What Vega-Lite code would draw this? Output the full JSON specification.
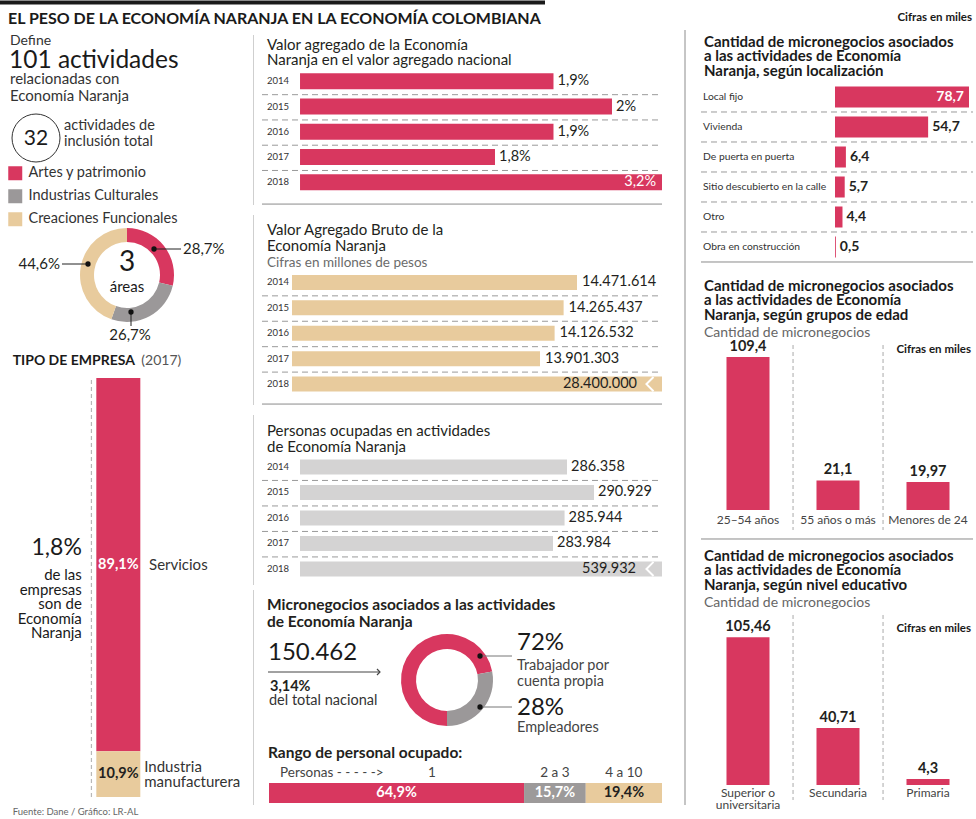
{
"$schema": "https://vega.github.io/schema/vega-lite/v6.json",
"background": "white",
"padding": 0,
"spacing": 0,
"resolve": {"scale": {"color": "independent"}},
"datasets": {
 "donut": [{"area":"Artes y patrimonio","pct":28.7,"label":"28,7%","orden":1},{"area":"Industrias Culturales","pct":26.7,"label":"26,7%","orden":2},{"area":"Creaciones Funcionales","pct":44.6,"label":"44,6%","orden":3}],
 "tipo": [{"tipo":"Servicios","pct":89.1,"label":"89,1%"},{"tipo":"Industria manufacturera","pct":10.9,"label":"10,9%"}],
 "va": [{"year":2014,"value":1.9,"label":"1,9%"},{"year":2015,"value":2.0,"label":"2%"},{"year":2016,"value":1.9,"label":"1,9%"},{"year":2017,"value":1.8,"label":"1,8%"},{"year":2018,"value":3.2,"label":"3,2%"}],
 "vab": [{"year":2014,"value":14471614,"label":"14.471.614"},{"year":2015,"value":14265437,"label":"14.265.437"},{"year":2016,"value":14126532,"label":"14.126.532"},{"year":2017,"value":13901303,"label":"13.901.303"},{"year":2018,"value":28400000,"label":"28.400.000"}],
 "pers": [{"year":2014,"value":286358,"label":"286.358"},{"year":2015,"value":290929,"label":"290.929"},{"year":2016,"value":285944,"label":"285.944"},{"year":2017,"value":283984,"label":"283.984"},{"year":2018,"value":539932,"label":"539.932"}],
 "micro": [{"tipo":"Trabajador por cuenta propia","pct":72,"pctlabel":"72%","lineas":["Trabajador por","cuenta propia"]},{"tipo":"Empleadores","pct":28,"pctlabel":"28%","lineas":["Empleadores"]}],
 "rango": [{"rango":"1","pct":64.9,"label":"64,9%"},{"rango":"2 a 3","pct":15.7,"label":"15,7%"},{"rango":"4 a 10","pct":19.4,"label":"19,4%"}],
 "loc": [{"loc":"Local fijo","value":78.7,"label":"78,7"},{"loc":"Vivienda","value":54.7,"label":"54,7"},{"loc":"De puerta en puerta","value":6.4,"label":"6,4"},{"loc":"Sitio descubierto en la calle","value":5.7,"label":"5,7"},{"loc":"Otro","value":4.4,"label":"4,4"},{"loc":"Obra en construcción","value":0.5,"label":"0,5"}],
 "edad": [{"edad":"25–54 años","value":109.4,"label":"109,4"},{"edad":"55 años o más","value":21.1,"label":"21,1"},{"edad":"Menores de 24","value":19.97,"label":"19,97"}],
 "nivel": [{"nivel":"Superior o universitaria","value":105.46,"label":"105,46","et":["Superior o","universitaria"]},{"nivel":"Secundaria","value":40.71,"label":"40,71","et":["Secundaria"]},{"nivel":"Primaria","value":4.3,"label":"4,3","et":["Primaria"]}]
},
"vconcat": [
 {"width":976,"height":30,"layer":[
  {"data":{"values":[{}]},"mark":{"type":"bar","color":"#1a1a1a"},"encoding":{"x":{"datum":0,"type":"quantitative","scale":{"domain":[0,976],"nice":false,"zero":false}},"x2":{"datum":545},"y":{"datum":0.5,"type":"quantitative","scale":{"domain":[0,30],"reverse":true,"nice":false,"zero":false}},"y2":{"datum":4.5}}},
  {"data":{"values":[{"t":"EL PESO DE LA ECONOMÍA NARANJA EN LA ECONOMÍA COLOMBIANA"}]},"mark":{"type":"text","fontSize":16,"fontWeight":"bold","color":"#1a1a1a"},"encoding":{"x":{"datum":8},"y":{"datum":19},"text":{"field":"t"}}},
  {"data":{"values":[{"t":"Cifras en miles"}]},"mark":{"type":"text","fontSize":11.5,"fontWeight":"bold","align":"right","color":"#1a1a1a"},"encoding":{"x":{"datum":972},"y":{"datum":18},"text":{"field":"t"}}}
 ]},
 {"hconcat": [
  {"vconcat": [
   {"width":252,"height":315,"layer":[
    {"data":{"values":[{"t":"Define"}]},"mark":{"type":"text","fontSize":14,"color":"#333"},"encoding":{"x":{"datum":10,"type":"quantitative","scale":{"domain":[0,252],"nice":false,"zero":false}},"y":{"datum":11,"type":"quantitative","scale":{"domain":[0,315],"reverse":true,"nice":false,"zero":false}},"text":{"field":"t"}}},
    {"data":{"values":[{"t":"101 actividades"}]},"mark":{"type":"text","fontSize":24.5,"color":"#1a1a1a"},"encoding":{"x":{"datum":9},"y":{"datum":31},"text":{"field":"t"}}},
    {"data":{"values":[{"t":["relacionadas con","Economía Naranja"]}]},"mark":{"type":"text","fontSize":15,"color":"#333","baseline":"alphabetic","lineHeight":17},"encoding":{"x":{"datum":10},"y":{"datum":54},"text":{"field":"t"}}},
    {"data":{"values":[{"n":"32"}]},"mark":{"type":"point","shape":"circle","size":2304,"filled":false,"color":"#333","strokeWidth":1,"opacity":1},"encoding":{"x":{"datum":36},"y":{"datum":108}}},
    {"data":{"values":[{"n":"32"}]},"mark":{"type":"text","fontSize":21,"align":"center","color":"#1a1a1a"},"encoding":{"x":{"datum":36},"y":{"datum":109},"text":{"field":"n"}}},
    {"data":{"values":[{"t":["actividades de","inclusión total"]}]},"mark":{"type":"text","fontSize":14.5,"color":"#333","baseline":"alphabetic","lineHeight":16},"encoding":{"x":{"datum":64},"y":{"datum":99.5},"text":{"field":"t"}}},
    {"data":{"name":"donut"},"mark":{"type":"arc","outerRadius":47,"innerRadius":33},"encoding":{"x":{"datum":127},"y":{"datum":245},"theta":{"field":"pct","type":"quantitative","stack":true},"order":{"field":"orden","type":"quantitative"},"color":{"field":"area","type":"nominal","scale":{"domain":["Artes y patrimonio","Industrias Culturales","Creaciones Funcionales"],"range":["#d8375f","#9b9899","#e8cb9d"]},"legend":{"orient":"none","legendX":8,"legendY":136,"title":null,"symbolType":"square","symbolSize":196,"symbolStrokeWidth":0,"symbolOpacity":1,"labelFont":"Lato","labelFontSize":14.5,"labelColor":"#333","labelOffset":6,"rowPadding":7,"padding":0}}}},
    {"data":{"values":[{"n":"3","t":"áreas"}]},"mark":{"type":"text","fontSize":28,"align":"center","color":"#1a1a1a"},"encoding":{"x":{"datum":127},"y":{"datum":233},"text":{"field":"n"}}},
    {"data":{"values":[{"n":"3","t":"áreas"}]},"mark":{"type":"text","fontSize":15,"align":"center","color":"#1a1a1a"},"encoding":{"x":{"datum":127},"y":{"datum":257},"text":{"field":"t"}}},
    {"data":{"name":"donut"},"transform":[{"filter":"datum.orden === 1"}],"layer":[
     {"mark":{"type":"rule","color":"#222","strokeWidth":1},"encoding":{"x":{"datum":154},"x2":{"datum":181},"y":{"datum":219}}},
     {"mark":{"type":"point","filled":true,"size":28,"color":"#111","opacity":1},"encoding":{"x":{"datum":154},"y":{"datum":219}}},
     {"mark":{"type":"text","fontSize":15},"encoding":{"x":{"datum":183},"y":{"datum":219},"text":{"field":"label"}}}
    ]},
    {"data":{"name":"donut"},"transform":[{"filter":"datum.orden === 3"}],"layer":[
     {"mark":{"type":"rule","color":"#222","strokeWidth":1},"encoding":{"x":{"datum":62},"x2":{"datum":88},"y":{"datum":234}}},
     {"mark":{"type":"point","filled":true,"size":28,"color":"#111","opacity":1},"encoding":{"x":{"datum":88},"y":{"datum":234}}},
     {"mark":{"type":"text","fontSize":15,"align":"right"},"encoding":{"x":{"datum":60},"y":{"datum":234},"text":{"field":"label"}}}
    ]},
    {"data":{"name":"donut"},"transform":[{"filter":"datum.orden === 2"}],"layer":[
     {"mark":{"type":"rule","color":"#222","strokeWidth":1},"encoding":{"x":{"datum":131},"y":{"datum":282},"y2":{"datum":296}}},
     {"mark":{"type":"point","filled":true,"size":28,"color":"#111","opacity":1},"encoding":{"x":{"datum":131},"y":{"datum":282}}},
     {"mark":{"type":"text","fontSize":15,"align":"center"},"encoding":{"x":{"datum":130},"y":{"datum":305},"text":{"field":"label"}}}
    ]}
   ]},
   {"width":252,"height":474,"layer":[
    {"data":{"values":[{"t":"TIPO DE EMPRESA"}]},"mark":{"type":"text","fontSize":14,"fontWeight":"bold","color":"#1a1a1a"},"encoding":{"x":{"datum":8,"type":"quantitative","scale":{"domain":[0,252],"nice":false,"zero":false}},"y":{"datum":104.06,"type":"quantitative","scale":{"domain":[-5.25,107.876],"nice":false,"zero":false}},"text":{"field":"t"}}},
    {"data":{"values":[{"t":"(2017)"}]},"mark":{"type":"text","fontSize":14,"color":"#555"},"encoding":{"x":{"datum":142},"y":{"datum":104.06},"text":{"field":"t"}}},
    {"data":{"values":[{}]},"mark":{"type":"rule","strokeDash":[4,3],"color":"#b8b8b8","strokeWidth":1.2},"encoding":{"x":{"datum":90},"y":{"datum":0},"y2":{"datum":100}}},
    {"data":{"name":"tipo"},"transform":[{"stack":"pct","groupby":[],"sort":[{"field":"pct","order":"ascending"}],"as":["y0","y1"]}],"mark":{"type":"bar","orient":"vertical","width":44},"encoding":{"x":{"datum":118},"y":{"field":"y0","type":"quantitative"},"y2":{"field":"y1"},"color":{"field":"tipo","type":"nominal","scale":{"domain":["Servicios","Industria manufacturera"],"range":["#d8375f","#e8cb9d"]},"legend":null}}},
    {"data":{"name":"tipo"},"transform":[{"stack":"pct","groupby":[],"sort":[{"field":"pct","order":"ascending"}],"as":["y0","y1"]},{"fold":["y0","y1"],"as":["k","v"]},{"aggregate":[{"op":"mean","field":"v","as":"mid"}],"groupby":["tipo","label"]}],"layer":[
     {"mark":{"type":"text","fontSize":14.5,"fontWeight":"bold","align":"center"},"encoding":{"x":{"datum":118},"y":{"field":"mid","type":"quantitative"},"text":{"field":"label"},"color":{"condition":{"test":"datum.tipo === 'Servicios'","value":"white"},"value":"#231f20"}}},
     {"transform":[{"filter":"datum.tipo === 'Servicios'"}],"mark":{"type":"text","fontSize":15,"color":"#333"},"encoding":{"x":{"datum":150},"y":{"field":"mid","type":"quantitative"},"text":{"field":"tipo"}}},
     {"transform":[{"filter":"datum.tipo !== 'Servicios'"}],"mark":{"type":"text","fontSize":15,"color":"#333","lineBreak":" ","lineHeight":15,"dy":-7.5},"encoding":{"x":{"datum":145},"y":{"field":"mid","type":"quantitative"},"text":{"field":"tipo"}}}
    ]},
    {"data":{"values":[{"t":"1,8%"}]},"mark":{"type":"text","fontSize":23,"align":"right","color":"#1a1a1a"},"encoding":{"x":{"datum":80},"y":{"datum":59.43},"text":{"field":"t"}}},
    {"data":{"values":[{"t":["de las","empresas","son de","Economía","Naranja"]}]},"mark":{"type":"text","fontSize":15,"align":"right","lineHeight":14.5,"color":"#1a1a1a"},"encoding":{"x":{"datum":80},"y":{"datum":52.98},"text":{"field":"t"}}},
    {"data":{"values":[{"t":"Fuente: Dane / Gráfico: LR-AL"}]},"mark":{"type":"text","fontSize":9.5,"color":"#666"},"encoding":{"x":{"datum":8},"y":{"datum":-3.58},"text":{"field":"t"}}}
   ]}
  ], "spacing": 0, "resolve": {"scale": {"color": "independent"}}},
  {"vconcat": [
   {"width":410,"height":180,"layer":[
    {"data":{"values":[{"t":["Valor agregado de la Economía","Naranja en el valor agregado nacional"]}]},"mark":{"type":"text","fontSize":15,"baseline":"alphabetic","lineHeight":15.5},"encoding":{"x":{"datum":1.4102,"type":"quantitative","scale":{"domain":[1.3846,2.0855],"clamp":true,"nice":false,"zero":false}},"y":{"datum":2012.76,"type":"quantitative","scale":{"domain":[2012.168,2018.897],"reverse":true,"nice":false,"zero":false}},"text":{"field":"t"}}},
    {"data":{"name":"va"},"mark":{"type":"bar","orient":"horizontal","height":16,"color":"#d8375f"},"encoding":{"x":{"field":"value","type":"quantitative"},"x2":{"datum":1.4667},"y":{"field":"year","type":"quantitative"}}},
    {"data":{"name":"va"},"mark":{"type":"text","fontSize":9.5,"color":"#333"},"encoding":{"x":{"datum":1.4102},"y":{"field":"year","type":"quantitative"},"text":{"field":"year","type":"nominal"}}},
    {"data":{"name":"va"},"transform":[{"filter":"datum.value <= 2.0855"}],"mark":{"type":"text","fontSize":14.5,"dx":4},"encoding":{"x":{"field":"value","type":"quantitative"},"y":{"field":"year","type":"quantitative"},"text":{"field":"label"}}},
    {"data":{"name":"va"},"transform":[{"filter":"datum.value > 2.0855"}],"mark":{"type":"text","fontSize":14.5,"align":"right","dx":-6,"color":"white"},"encoding":{"x":{"field":"value","type":"quantitative"},"y":{"field":"year","type":"quantitative"},"text":{"field":"label"}}},
    {"data":{"name":"va"},"transform":[{"filter":"datum.year < 2018"}],"mark":{"type":"rule","strokeDash":[6,4],"color":"#9a9a9a","strokeWidth":1,"yOffset":13.4},"encoding":{"x":{"datum":1.4017},"x2":{"datum":2.0855},"y":{"field":"year","type":"quantitative"}}},
    {"data":{"values":[{}]},"mark":{"type":"rule","color":"#8a8a8a","strokeWidth":1},"encoding":{"x":{"datum":1.4017},"x2":{"datum":2.0855},"y":{"datum":2018.86}}},
    {"data":{"values":[{}]},"mark":{"type":"bar","color":"#cfcfcf"},"encoding":{"x":{"datum":1.3863},"x2":{"datum":1.388},"y":{"datum":2012.168},"y2":{"datum":2018.897}}}
   ]},
   {"width":410,"height":200,"layer":[
    {"data":{"values":[{"t":["Valor Agregado Bruto de la","Economía Naranja"]}]},"mark":{"type":"text","fontSize":15,"baseline":"alphabetic","lineHeight":16},"encoding":{"x":{"datum":9693592,"type":"quantitative","scale":{"domain":[9462400,15781700],"clamp":true,"nice":false,"zero":false}},"y":{"datum":2012.15,"type":"quantitative","scale":{"domain":[2011.346,2018.822],"reverse":true,"nice":false,"zero":false}},"text":{"field":"t"}}},
    {"data":{"values":[{"t":"Cifras en millones de pesos"}]},"mark":{"type":"text","fontSize":13.5,"baseline":"alphabetic","color":"#6b6b6b"},"encoding":{"x":{"datum":9693592},"y":{"datum":2013.383},"text":{"field":"t"}}},
    {"data":{"name":"vab"},"mark":{"type":"bar","orient":"horizontal","height":15,"color":"#e8cb9d"},"encoding":{"x":{"field":"value","type":"quantitative"},"x2":{"datum":10078900},"y":{"field":"year","type":"quantitative"}}},
    {"data":{"name":"vab"},"mark":{"type":"text","fontSize":9.5,"color":"#333"},"encoding":{"x":{"datum":9693592},"y":{"field":"year","type":"quantitative"},"text":{"field":"year","type":"nominal"}}},
    {"data":{"name":"vab"},"transform":[{"filter":"datum.value <= 15781700"}],"mark":{"type":"text","fontSize":14.5,"dx":5},"encoding":{"x":{"field":"value","type":"quantitative"},"y":{"field":"year","type":"quantitative"},"text":{"field":"label"}}},
    {"data":{"name":"vab"},"transform":[{"filter":"datum.value > 15781700"}],"mark":{"type":"text","fontSize":14.5,"align":"right","dx":-25},"encoding":{"x":{"field":"value","type":"quantitative"},"y":{"field":"year","type":"quantitative"},"text":{"field":"label"}}},
    {"data":{"name":"vab"},"transform":[{"filter":"datum.value > 15781700"}],"mark":{"type":"point","shape":"M0.5,-1L-0.5,0L0.5,1","filled":false,"color":"white","strokeWidth":2,"size":200,"opacity":1,"xOffset":-12},"encoding":{"x":{"field":"value","type":"quantitative"},"y":{"field":"year","type":"quantitative"}}},
    {"data":{"name":"vab"},"transform":[{"filter":"datum.year < 2018"}],"mark":{"type":"rule","strokeDash":[6,4],"color":"#9a9a9a","strokeWidth":1,"yOffset":13.4},"encoding":{"x":{"datum":9616528},"x2":{"datum":15781700},"y":{"field":"year","type":"quantitative"}}},
    {"data":{"values":[{}]},"mark":{"type":"rule","color":"#8a8a8a","strokeWidth":1},"encoding":{"x":{"datum":9616528},"x2":{"datum":15781700},"y":{"datum":2018.785}}},
    {"data":{"values":[{}]},"mark":{"type":"bar","color":"#cfcfcf"},"encoding":{"x":{"datum":9477813},"x2":{"datum":9493226},"y":{"datum":2011.346},"y2":{"datum":2018.822}}}
   ]},
   {"width":410,"height":180,"layer":[
    {"data":{"values":[{"t":["Personas ocupadas en actividades","de Economía Naranja"]}]},"mark":{"type":"text","fontSize":15,"baseline":"alphabetic","lineHeight":15.5},"encoding":{"x":{"datum":235538,"type":"quantitative","scale":{"domain":[232997,302448],"clamp":true,"nice":false,"zero":false}},"y":{"datum":2012.796,"type":"quantitative","scale":{"domain":[2011.963,2018.63],"reverse":true,"nice":false,"zero":false}},"text":{"field":"t"}}},
    {"data":{"name":"pers"},"mark":{"type":"bar","orient":"horizontal","height":15,"color":"#d4d3d3"},"encoding":{"x":{"field":"value","type":"quantitative"},"x2":{"datum":241128},"y":{"field":"year","type":"quantitative"}}},
    {"data":{"name":"pers"},"mark":{"type":"text","fontSize":9.5,"color":"#333"},"encoding":{"x":{"datum":235538},"y":{"field":"year","type":"quantitative"},"text":{"field":"year","type":"nominal"}}},
    {"data":{"name":"pers"},"transform":[{"filter":"datum.value <= 302448"}],"mark":{"type":"text","fontSize":14.5,"dx":4},"encoding":{"x":{"field":"value","type":"quantitative"},"y":{"field":"year","type":"quantitative"},"text":{"field":"label"}}},
    {"data":{"name":"pers"},"transform":[{"filter":"datum.value > 302448"}],"mark":{"type":"text","fontSize":14.5,"align":"right","dx":-26},"encoding":{"x":{"field":"value","type":"quantitative"},"y":{"field":"year","type":"quantitative"},"text":{"field":"label"}}},
    {"data":{"name":"pers"},"transform":[{"filter":"datum.value > 302448"}],"mark":{"type":"point","shape":"M0.5,-1L-0.5,0L0.5,1","filled":false,"color":"white","strokeWidth":2,"size":200,"opacity":1,"xOffset":-12},"encoding":{"x":{"field":"value","type":"quantitative"},"y":{"field":"year","type":"quantitative"}}},
    {"data":{"name":"pers"},"transform":[{"filter":"datum.year < 2018"}],"mark":{"type":"rule","strokeDash":[6,4],"color":"#9a9a9a","strokeWidth":1,"yOffset":13.5},"encoding":{"x":{"datum":234691},"x2":{"datum":302448},"y":{"field":"year","type":"quantitative"}}},
    {"data":{"values":[{}]},"mark":{"type":"bar","color":"#cfcfcf"},"encoding":{"x":{"datum":233166},"x2":{"datum":233336},"y":{"datum":2011.963},"y2":{"datum":2018.63}}}
   ]},
   {"width":410,"height":229,"resolve":{"scale":{"color":"independent"}},"layer":[
    {"data":{"values":[{"t":["Micronegocios asociados a las actividades","de Economía Naranja"]}]},"mark":{"type":"text","fontSize":15.5,"fontWeight":"bold","baseline":"alphabetic","lineHeight":17},"encoding":{"x":{"datum":-0.509,"type":"quantitative","scale":{"domain":[-4.3257,100],"nice":false,"zero":false}},"y":{"datum":19.5,"type":"quantitative","scale":{"domain":[0,229],"reverse":true,"nice":false,"zero":false}},"text":{"field":"t"}}},
    {"data":{"values":[{"t":"150.462"}]},"mark":{"type":"text","fontSize":24,"color":"#1a1a1a"},"encoding":{"x":{"datum":-0.254},"y":{"datum":63},"text":{"field":"t"}}},
    {"data":{"values":[{}]},"mark":{"type":"rule","color":"#444","strokeWidth":1},"encoding":{"x":{"datum":-0.254},"x2":{"datum":28.24},"y":{"datum":82}}},
    {"data":{"values":[{}]},"mark":{"type":"point","shape":"M-1,-1L0,0L-1,1","filled":false,"color":"#444","strokeWidth":1.2,"size":36,"opacity":1},"encoding":{"x":{"datum":28.24},"y":{"datum":82}}},
    {"data":{"values":[{"t":"3,14%"}]},"mark":{"type":"text","fontSize":14.5,"fontWeight":"bold"},"encoding":{"x":{"datum":0.254},"y":{"datum":96.5},"text":{"field":"t"}}},
    {"data":{"values":[{"t":"del total nacional"}]},"mark":{"type":"text","fontSize":14.5,"color":"#333"},"encoding":{"x":{"datum":0},"y":{"datum":110.5},"text":{"field":"t"}}},
    {"data":{"name":"micro"},"mark":{"type":"arc","outerRadius":46,"innerRadius":31},"encoding":{"x":{"datum":45.293},"y":{"datum":90},"theta":{"field":"pct","type":"quantitative","stack":true,"scale":{"range":[3.14159,9.42478]}},"order":{"field":"pct","type":"quantitative","sort":"descending"},"color":{"field":"tipo","type":"nominal","scale":{"domain":["Trabajador por cuenta propia","Empleadores"],"range":["#d8375f","#9b9899"]},"legend":null}}},
    {"data":{"name":"micro"},"transform":[{"filter":"datum.pct > 50"}],"layer":[
     {"mark":{"type":"rule","color":"#777","strokeWidth":1},"encoding":{"x":{"datum":53.69},"x2":{"datum":61.83},"y":{"datum":66}}},
     {"mark":{"type":"point","filled":true,"size":28,"color":"#111","opacity":1},"encoding":{"x":{"datum":53.69},"y":{"datum":66}}},
     {"mark":{"type":"text","fontSize":24,"color":"#1a1a1a"},"encoding":{"x":{"datum":63.1},"y":{"datum":53},"text":{"field":"pctlabel"}}},
     {"mark":{"type":"text","fontSize":14.5,"color":"#444","baseline":"alphabetic","lineHeight":16},"encoding":{"x":{"datum":63.1},"y":{"datum":79.5},"text":{"field":"lineas"}}}
    ]},
    {"data":{"name":"micro"},"transform":[{"filter":"datum.pct < 50"}],"layer":[
     {"mark":{"type":"rule","color":"#777","strokeWidth":1},"encoding":{"x":{"datum":53.69},"x2":{"datum":61.83},"y":{"datum":117}}},
     {"mark":{"type":"point","filled":true,"size":28,"color":"#111","opacity":1},"encoding":{"x":{"datum":53.69},"y":{"datum":117}}},
     {"mark":{"type":"text","fontSize":24,"color":"#1a1a1a"},"encoding":{"x":{"datum":63.1},"y":{"datum":118},"text":{"field":"pctlabel"}}},
     {"mark":{"type":"text","fontSize":14.5,"color":"#444","baseline":"alphabetic","lineHeight":16},"encoding":{"x":{"datum":63.1},"y":{"datum":141.5},"text":{"field":"lineas"}}}
    ]},
    {"data":{"values":[{"t":"Rango de personal ocupado:"}]},"mark":{"type":"text","fontSize":15.5,"fontWeight":"bold"},"encoding":{"x":{"datum":-0.254},"y":{"datum":163},"text":{"field":"t"}}},
    {"data":{"values":[{"t":"Personas - - - - ->"}]},"mark":{"type":"text","fontSize":13.5,"color":"#444"},"encoding":{"x":{"datum":2.8},"y":{"datum":183},"text":{"field":"t"}}},
    {"data":{"name":"rango"},"transform":[{"stack":"pct","groupby":[],"sort":[{"field":"rango","order":"ascending"}],"as":["x0","x1"]}],"mark":{"type":"bar"},"encoding":{"x":{"field":"x0","type":"quantitative"},"x2":{"field":"x1"},"y":{"datum":193},"y2":{"datum":213},"color":{"field":"rango","type":"nominal","scale":{"domain":["1","2 a 3","4 a 10"],"range":["#d8375f","#9d9a9a","#e8cb9d"]},"legend":null}}},
    {"data":{"name":"rango"},"transform":[{"stack":"pct","groupby":[],"sort":[{"field":"rango","order":"ascending"}],"as":["x0","x1"]},{"fold":["x0","x1"],"as":["k","v"]},{"aggregate":[{"op":"mean","field":"v","as":"mid"}],"groupby":["rango","label"]}],"layer":[
     {"mark":{"type":"text","fontSize":14.5,"fontWeight":"bold","align":"center"},"encoding":{"x":{"field":"mid","type":"quantitative"},"y":{"datum":203},"text":{"field":"label"},"color":{"condition":{"test":"datum.rango === '4 a 10'","value":"#231f20"},"value":"white"}}},
     {"transform":[{"filter":"datum.rango !== '1'"}],"mark":{"type":"text","fontSize":13.5,"color":"#444","align":"center"},"encoding":{"x":{"field":"mid","type":"quantitative"},"y":{"datum":183},"text":{"field":"rango"}}}
    ]},
    {"data":{"name":"rango"},"transform":[{"filter":"datum.rango === '1'"}],"mark":{"type":"text","fontSize":13.5,"color":"#444","align":"center"},"encoding":{"x":{"datum":41.48},"y":{"datum":183},"text":{"field":"rango"}}},
    {"data":{"values":[{}]},"mark":{"type":"bar","color":"#cfcfcf"},"encoding":{"x":{"datum":-4.071},"x2":{"datum":-3.817},"y":{"datum":0},"y2":{"datum":215}}}
   ]}
  ], "spacing": 0, "resolve": {"scale": {"color": "independent"}}},
  {"vconcat": [
   {"width":314,"height":235,"resolve":{"scale":{"y":"independent"}},"layer":[
    {"data":{"name":"loc"},"layer":[
     {"mark":{"type":"bar","color":"#d8375f"},"encoding":{"x":{"field":"value","type":"quantitative","scale":{"domain":[-101.02,83.4],"nice":false,"zero":false}},"x2":{"datum":0},"y":{"field":"loc","type":"nominal","sort":null,"scale":{"domain":["Local fijo","Vivienda","De puerta en puerta","Sitio descubierto en la calle","Otro","Obra en construcción"],"range":[52,232],"paddingInner":0.3,"paddingOuter":0.15}}}},
     {"mark":{"type":"text","fontSize":10.3,"color":"#333"},"encoding":{"x":{"datum":-77.5},"y":{"field":"loc","type":"nominal","sort":null},"text":{"field":"loc"}}},
     {"transform":[{"filter":"datum.value < 70"}],"mark":{"type":"text","fontSize":14,"fontWeight":"bold","dx":4},"encoding":{"x":{"field":"value","type":"quantitative"},"y":{"field":"loc","type":"nominal","sort":null},"text":{"field":"label"}}},
     {"transform":[{"filter":"datum.value >= 70"}],"mark":{"type":"text","fontSize":14,"fontWeight":"bold","align":"right","dx":-5,"color":"white"},"encoding":{"x":{"field":"value","type":"quantitative"},"y":{"field":"loc","type":"nominal","sort":null},"text":{"field":"label"}}},
     {"transform":[{"filter":"datum.loc !== 'Obra en construcción'"}],"mark":{"type":"rule","strokeDash":[6,4],"color":"#9a9a9a","strokeWidth":1},"encoding":{"x":{"datum":-78.7},"x2":{"datum":81.05},"y":{"field":"loc","type":"nominal","sort":null,"bandPosition":1.214}}},
     {"transform":[{"filter":"datum.loc === 'Obra en construcción'"}],"mark":{"type":"rule","color":"#8a8a8a","strokeWidth":1},"encoding":{"x":{"datum":-78.7},"x2":{"datum":81.05},"y":{"field":"loc","type":"nominal","sort":null,"bandPosition":1.214}}}
    ]},
    {"layer":[
     {"data":{"values":[{"t":["Cantidad de micronegocios asociados","a las actividades de Economía","Naranja, según localización"]}]},"mark":{"type":"text","fontSize":15,"fontWeight":"bold","baseline":"alphabetic","lineHeight":14.3,"color":"#1a1a1a"},"encoding":{"x":{"datum":-76.94},"y":{"datum":17,"type":"quantitative","scale":{"domain":[0,235],"reverse":true,"nice":false,"zero":false}},"text":{"field":"t"}}},
     {"data":{"values":[{}]},"mark":{"type":"bar","color":"#8c8c8c"},"encoding":{"x":{"datum":-88.39},"x2":{"datum":-87.8},"y":{"datum":0},"y2":{"datum":235}}}
    ]}
   ]},
   {"width":314,"height":275,"resolve":{"scale":{"x":"independent"}},"layer":[
    {"data":{"name":"edad"},"layer":[
     {"mark":{"type":"bar","color":"#d8375f"},"encoding":{"x":{"field":"edad","type":"nominal","sort":null,"scale":{"domain":["25–54 años","55 años o más","Menores de 24"],"range":[40,310],"paddingInner":0.522,"paddingOuter":0.261}},"y":{"field":"value","type":"quantitative","scale":{"domain":[-21.45,175.2],"nice":false,"zero":false}},"y2":{"datum":0}}},
     {"mark":{"type":"text","fontSize":14.5,"fontWeight":"bold","align":"center","baseline":"bottom","dy":-3},"encoding":{"x":{"field":"edad","type":"nominal","sort":null},"y":{"field":"value","type":"quantitative"},"text":{"field":"label"}}},
     {"mark":{"type":"text","fontSize":12,"color":"#444","align":"center"},"encoding":{"x":{"field":"edad","type":"nominal","sort":null},"y":{"datum":-7},"text":{"field":"edad"}}},
     {"transform":[{"filter":"datum.edad !== 'Menores de 24'"}],"mark":{"type":"rule","strokeDash":[4,3],"color":"#aaa","strokeWidth":1},"encoding":{"x":{"field":"edad","type":"nominal","sort":null,"bandPosition":1.547},"y":{"datum":117.99},"y2":{"datum":-14.29}}}
    ]},
    {"layer":[
     {"data":{"values":[{}]},"mark":{"type":"bar","color":"#8c8c8c"},"encoding":{"x":{"datum":21.5,"type":"quantitative","scale":{"domain":[0,314],"nice":false,"zero":false}},"x2":{"datum":22.5},"y":{"datum":175.2},"y2":{"datum":-21.45}}},
     {"data":{"values":[{"t":["Cantidad de micronegocios asociados","a las actividades de Economía","Naranja, según grupos de edad"]}]},"mark":{"type":"text","fontSize":15,"fontWeight":"bold","baseline":"alphabetic","lineHeight":14.3,"color":"#1a1a1a"},"encoding":{"x":{"datum":41},"y":{"datum":156.6},"text":{"field":"t"}}},
     {"data":{"values":[{"t":"Cantidad de micronegocios"}]},"mark":{"type":"text","fontSize":14,"color":"#666"},"encoding":{"x":{"datum":41},"y":{"datum":126.9},"text":{"field":"t"}}},
     {"data":{"values":[{"t":"Cifras en miles"}]},"mark":{"type":"text","fontSize":11.5,"fontWeight":"bold","align":"right","color":"#1a1a1a"},"encoding":{"x":{"datum":308},"y":{"datum":114.42},"text":{"field":"t"}}},
     {"data":{"values":[{}]},"mark":{"type":"rule","color":"#8a8a8a","strokeWidth":1},"encoding":{"x":{"datum":38},"x2":{"datum":310},"y":{"datum":-20.73}}}
    ]}
   ]},
   {"width":314,"height":279,"resolve":{"scale":{"x":"independent"}},"layer":[
    {"data":{"name":"nivel"},"layer":[
     {"mark":{"type":"bar","color":"#d8375f"},"encoding":{"x":{"field":"nivel","type":"nominal","sort":null,"scale":{"domain":["Superior o universitaria","Secundaria","Primaria"],"range":[40,310],"paddingInner":0.522,"paddingOuter":0.261}},"y":{"field":"value","type":"quantitative","scale":{"domain":[-24.286,175],"nice":false,"zero":false}},"y2":{"datum":0}}},
     {"mark":{"type":"text","fontSize":14.5,"fontWeight":"bold","align":"center","baseline":"bottom","dy":-3},"encoding":{"x":{"field":"nivel","type":"nominal","sort":null},"y":{"field":"value","type":"quantitative"},"text":{"field":"label"}}},
     {"mark":{"type":"text","fontSize":12,"color":"#444","align":"center","baseline":"top","lineHeight":12.5},"encoding":{"x":{"field":"nivel","type":"nominal","sort":null},"y":{"datum":-2},"text":{"field":"et"}}},
     {"transform":[{"filter":"datum.nivel !== 'Primaria'"}],"mark":{"type":"rule","strokeDash":[4,3],"color":"#aaa","strokeWidth":1},"encoding":{"x":{"field":"nivel","type":"nominal","sort":null,"bandPosition":1.547},"y":{"datum":121.43},"y2":{"datum":-10.714}}}
    ]},
    {"layer":[
     {"data":{"values":[{}]},"mark":{"type":"bar","color":"#8c8c8c"},"encoding":{"x":{"datum":21.5,"type":"quantitative","scale":{"domain":[0,314],"nice":false,"zero":false}},"x2":{"datum":22.5},"y":{"datum":175},"y2":{"datum":-14.286}}},
     {"data":{"values":[{"t":["Cantidad de micronegocios asociados","a las actividades de Economía","Naranja, según nivel educativo"]}]},"mark":{"type":"text","fontSize":15,"fontWeight":"bold","baseline":"alphabetic","lineHeight":14.3,"color":"#1a1a1a"},"encoding":{"x":{"datum":41},"y":{"datum":160},"text":{"field":"t"}}},
     {"data":{"values":[{"t":"Cantidad de micronegocios"}]},"mark":{"type":"text","fontSize":14,"color":"#666"},"encoding":{"x":{"datum":41},"y":{"datum":130.3},"text":{"field":"t"}}},
     {"data":{"values":[{"t":"Cifras en miles"}]},"mark":{"type":"text","fontSize":11.5,"fontWeight":"bold","align":"right","color":"#1a1a1a"},"encoding":{"x":{"datum":308},"y":{"datum":111.43},"text":{"field":"t"}}}
    ]}
   ]}
  ], "spacing": 0, "resolve": {"scale": {"color": "independent"}}}
 ], "spacing": 0, "resolve": {"scale": {"color": "independent"}}}
],
"config": {
 "view": {"stroke": null},
 "axis": {"disable": true},
 "concat": {"spacing": 0},
 "font": "Lato",
 "text": {"font": "Lato", "fontSize": 14, "color": "#231f20", "baseline": "middle", "align": "left"}
}
}
